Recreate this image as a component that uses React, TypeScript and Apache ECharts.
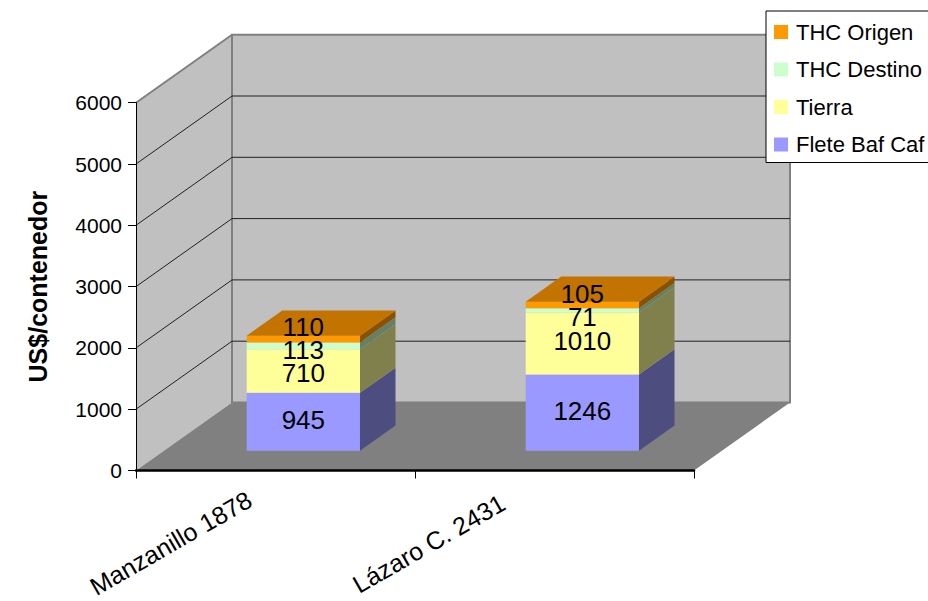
import React, { useEffect, useRef } from 'react';
import * as echarts from 'echarts';

const categories = ['Manzanillo 1878', 'Lázaro C. 2431'];
const seriesNames = ['Flete Baf Caf', 'Tierra', 'THC Destino', 'THC Origen'];
const fleteBafCaf = [945, 1246];
const tierra = [710, 1010];
const thcDestino = [113, 71];
const thcOrigen = [110, 105];
const yTicks = [1000, 2000, 3000, 4000, 5000];

const stacks = [fleteBafCaf, tierra, thcDestino, thcOrigen];
const frontColors = ['#9999FF', '#FFFF99', '#CCFFCC', '#FF9900'];
const sideColors = ['#4D4D80', '#80804D', '#668066', '#8A5200'];
const topColor = '#C27300';

const DX = 96;
const DY = -68;
const F1 = 0.29;
const F2 = 0.66;
const BAR_W = 0.406;
const MIN_GAP = 23;
const FONT = '"Liberation Sans", Arial, Helvetica, sans-serif';

function labelPositions(api: any, i: number): number[] {
  const fy = DY * F1;
  const ys: number[] = [];
  let base = 0;
  for (let k = 0; k < stacks.length; k++) {
    const v = stacks[k][i];
    const yb = api.coord([i, base])[1];
    const yt = api.coord([i, base + v])[1];
    ys.push((yb + yt) / 2 + fy);
    base += v;
  }
  for (let it = 0; it < 30; it++) {
    for (let k = 0; k < ys.length - 1; k++) {
      const gap = ys[k] - ys[k + 1];
      if (gap < MIN_GAP) {
        const push = (MIN_GAP - gap) / 2;
        ys[k] += push;
        ys[k + 1] -= push;
      }
    }
  }
  return ys.map((y) => y - 2);
}

function makeRender(s: number) {
  return (params: any, api: any) => {
    const i = api.value(0);
    const base = api.value(1);
    const top = api.value(2);
    const val = api.value(3);
    const [cx, yb] = api.coord([i, base]);
    const yt = api.coord([i, top])[1];
    const catW = api.size([1, 0])[0];
    const w = catW * BAR_W;
    const fx = DX * F1;
    const fy = DY * F1;
    const bx = DX * (F2 - F1);
    const by = DY * (F2 - F1);
    const x0 = cx - w / 2 + fx;
    const x1 = x0 + w;
    const yB = yb + fy;
    const yT = yt + fy;
    const children: any[] = [
      {
        type: 'polygon',
        shape: { points: [[x1, yB], [x1 + bx, yB + by], [x1 + bx, yT + by], [x1, yT]] },
        style: { fill: sideColors[s], stroke: null },
      },
      {
        type: 'rect',
        shape: { x: x0, y: yT, width: w, height: yB - yT },
        style: { fill: frontColors[s], stroke: null },
      },
    ];
    if (s === stacks.length - 1) {
      children.push({
        type: 'polygon',
        shape: { points: [[x0, yT], [x1, yT], [x1 + bx, yT + by], [x0 + bx, yT + by]] },
        style: { fill: topColor, stroke: null },
      });
    }
    const ly = labelPositions(api, i)[s];
    children.push({
      type: 'text',
      z2: 100,
      style: {
        x: x0 + w / 2,
        y: ly,
        text: String(val),
        fill: '#000',
        fontSize: 26,
        fontFamily: FONT,
        align: 'center',
        verticalAlign: 'middle',
        textAlign: 'center',
        textVerticalAlign: 'middle',
      },
    });
    return { type: 'group', children };
  };
}

function renderWalls(params: any, api: any) {
  const cs = params.coordSys;
  const x = cs.x;
  const y = cs.y;
  const w = cs.width;
  const h = cs.height;
  const yBot = y + h;
  const children: any[] = [
    {
      type: 'polygon',
      shape: { points: [[x, y], [x + DX, y + DY], [x + DX, yBot + DY], [x, yBot]] },
      style: { fill: '#C0C0C0', stroke: null },
    },
    {
      type: 'line',
      shape: { x1: x, y1: y, x2: x + DX, y2: y + DY },
      style: { stroke: '#808080', lineWidth: 2 },
    },
    {
      type: 'rect',
      shape: { x: x + DX, y: y + DY, width: w, height: h },
      style: { fill: '#C0C0C0', stroke: '#808080', lineWidth: 2 },
    },
  ];
  yTicks.forEach((t) => {
    const yy = api.coord([0, t])[1];
    children.push({
      type: 'line',
      shape: { x1: x + DX, y1: yy + DY, x2: x + DX + w, y2: yy + DY },
      style: { stroke: '#202020', lineWidth: 1 },
    });
    children.push({
      type: 'line',
      shape: { x1: x, y1: yy, x2: x + DX, y2: yy + DY },
      style: { stroke: '#202020', lineWidth: 1 },
    });
  });
  children.push({
    type: 'polygon',
    shape: { points: [[x, yBot], [x + w, yBot], [x + w + DX, yBot + DY], [x + DX, yBot + DY]] },
    style: { fill: '#808080', stroke: null },
  });
  return { type: 'group', children };
}

export default function App() {
  const ref = useRef<HTMLDivElement>(null);
  useEffect(() => {
    if (!ref.current) return;
    const chart = echarts.init(ref.current, null, { renderer: 'svg' });
    const segSeries = seriesNames.map((name, s) => {
      const data = categories.map((_, i) => {
        let base = 0;
        for (let k = 0; k < s; k++) base += stacks[k][i];
        const v = stacks[s][i];
        return [i, base, base + v, v];
      });
      return {
        type: 'custom',
        name,
        data,
        encode: { x: 0, y: 2 },
        clip: false,
        itemStyle: { color: frontColors[s] },
        renderItem: makeRender(s),
      };
    });
    chart.setOption({
      animation: false,
      backgroundColor: '#fff',
      grid: {
        left: 136,
        top: 102.7,
        width: 558,
        height: 367.8,
        containLabel: false,
        outerBoundsMode: 'none',
      },
      legend: {
        data: [...seriesNames].reverse(),
        orient: 'vertical',
        left: 766,
        top: 11,
        icon: 'rect',
        itemWidth: 14,
        itemHeight: 14,
        itemGap: 15.5,
        padding: [10, 30, 7, 8],
        borderColor: '#000',
        borderWidth: 1,
        backgroundColor: '#fff',
        textStyle: { fontSize: 22, color: '#000', fontFamily: FONT, lineHeight: 22, padding: [0, 0, 0, 3] },
      },
      xAxis: {
        type: 'category',
        data: categories,
        z: 10,
        axisLine: { show: true, lineStyle: { color: '#000', width: 2.5 } },
        axisTick: { show: true, length: 8, lineStyle: { color: '#000', width: 1 } },
        axisLabel: {
          rotate: 30,
          margin: 12,
          color: '#000',
          fontSize: 25,
          fontFamily: FONT,
          formatter: (v: string, idx: number) => (idx === 0 ? `{a|${v}}` : `{b|${v}}`),
          rich: {
            a: { fontSize: 25, fontFamily: FONT, color: '#000', padding: [0, 30, 0, 0] },
            b: { fontSize: 25, fontFamily: FONT, color: '#000', padding: [0, 54, 20, 0] },
          },
        },
        splitLine: { show: false },
      },
      yAxis: {
        type: 'value',
        min: 0,
        max: 6000,
        interval: 1000,
        z: 10,
        name: 'US$/contenedor',
        nameLocation: 'middle',
        nameGap: 86,
        nameTextStyle: { fontSize: 25, fontWeight: 'bold', color: '#000', fontFamily: FONT },
        axisLine: { show: true, lineStyle: { color: '#000', width: 1 } },
        axisTick: { show: true, length: 8, lineStyle: { color: '#000', width: 1 } },
        axisLabel: {
          margin: 14,
          color: '#000',
          fontSize: 21,
          fontFamily: FONT,
          formatter: (v: number) => String(v),
        },
        splitLine: { show: false },
      },
      series: [
        {
          type: 'custom',
          name: 'walls',
          data: [[0, 0]],
          encode: { x: 0, y: 1 },
          clip: false,
          silent: true,
          renderItem: renderWalls,
        },
        ...segSeries,
      ],
    });
    return () => chart.dispose();
  }, []);
  return (
    <div
      ref={ref}
      style={{ position: 'absolute', left: 0, top: 0, width: 928, height: 601 }}
    />
  );
}
